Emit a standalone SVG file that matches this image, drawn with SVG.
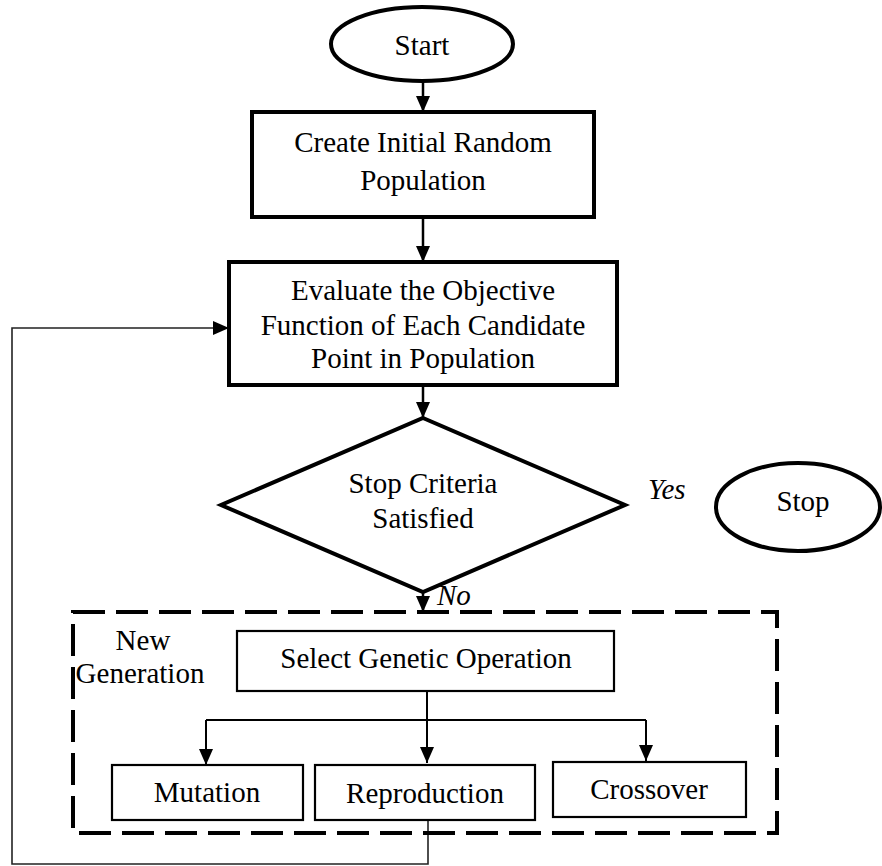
<svg xmlns="http://www.w3.org/2000/svg" width="882" height="866" viewBox="0 0 882 866">
<style>
text{font-family:"Liberation Serif","Times New Roman",serif;font-size:29px;fill:#000;text-anchor:middle}
.it{font-style:italic;text-anchor:start}
.lbl{text-anchor:start}
.thick{fill:#fff;stroke:#000;stroke-width:4}
.thin{fill:#fff;stroke:#000;stroke-width:2.2}
.conn{fill:none;stroke:#000;stroke-width:2.5}
.br{fill:none;stroke:#000;stroke-width:2}
.loop{fill:none;stroke:#222;stroke-width:1.6}
.dash{fill:none;stroke:#000;stroke-width:4;stroke-dasharray:32 11}
</style>
<defs>
<marker id="ah" viewBox="0 0 16 14" refX="16" refY="7" markerWidth="16" markerHeight="14" markerUnits="userSpaceOnUse" orient="auto">
<path d="M0,0 L16,7 L0,14 Z" fill="#000"/>
</marker>
</defs>
<g id="connectors">
<path class="conn" d="M423,81 V112" marker-end="url(#ah)"/>
<path class="conn" d="M423,217 V262" marker-end="url(#ah)"/>
<path class="conn" d="M423,385 V418" marker-end="url(#ah)"/>
<path class="conn" d="M423,592 V612" marker-end="url(#ah)"/>
<path class="br" d="M427,691 V763" marker-end="url(#ah)"/>
<path class="br" d="M206,720 H646"/>
<path class="br" d="M206,720 V765" marker-end="url(#ah)"/>
<path class="br" d="M646,720 V761" marker-end="url(#ah)"/>
<path class="loop" d="M428,820 V864 H12 V328 H229" marker-end="url(#ah)"/>
</g>
<g id="start">
<ellipse class="thick" cx="422" cy="44" rx="91" ry="37"/>
<text x="422" y="55">Start</text>
</g>
<g id="create">
<rect class="thick" x="252" y="112" width="342" height="105"/>
<text x="423" y="152">Create Initial Random</text>
<text x="423" y="190">Population</text>
</g>
<g id="evaluate">
<rect class="thick" x="229" y="262" width="388" height="123"/>
<text x="423" y="300">Evaluate the Objective</text>
<text x="423" y="335">Function of Each Candidate</text>
<text x="423" y="368">Point in Population</text>
</g>
<g id="decision">
<polygon class="thick" points="423,418 625,505 423,592 221,505"/>
<text x="423" y="493">Stop Criteria</text>
<text x="423" y="528">Satisfied</text>
</g>
<text class="it" x="648" y="499">Yes</text>
<text class="it" x="437" y="605">No</text>
<g id="stop">
<ellipse class="thick" cx="798" cy="507" rx="82" ry="44"/>
<text x="803" y="511">Stop</text>
</g>
<g id="new-generation">
<rect class="dash" x="73" y="612" width="704" height="221"/>
<text x="143" y="650">New</text>
<text x="140" y="683">Generation</text>
</g>
<g id="select">
<rect class="thin" x="237" y="631" width="377" height="60"/>
<text x="426" y="668">Select Genetic Operation</text>
</g>
<g id="mutation">
<rect class="thin" x="112" y="765" width="191" height="55"/>
<text x="207" y="802">Mutation</text>
</g>
<g id="reproduction">
<rect class="thin" x="315" y="765" width="220" height="55"/>
<text x="425" y="803">Reproduction</text>
</g>
<g id="crossover">
<rect class="thin" x="553" y="762" width="193" height="55"/>
<text x="649" y="799">Crossover</text>
</g>
</svg>
